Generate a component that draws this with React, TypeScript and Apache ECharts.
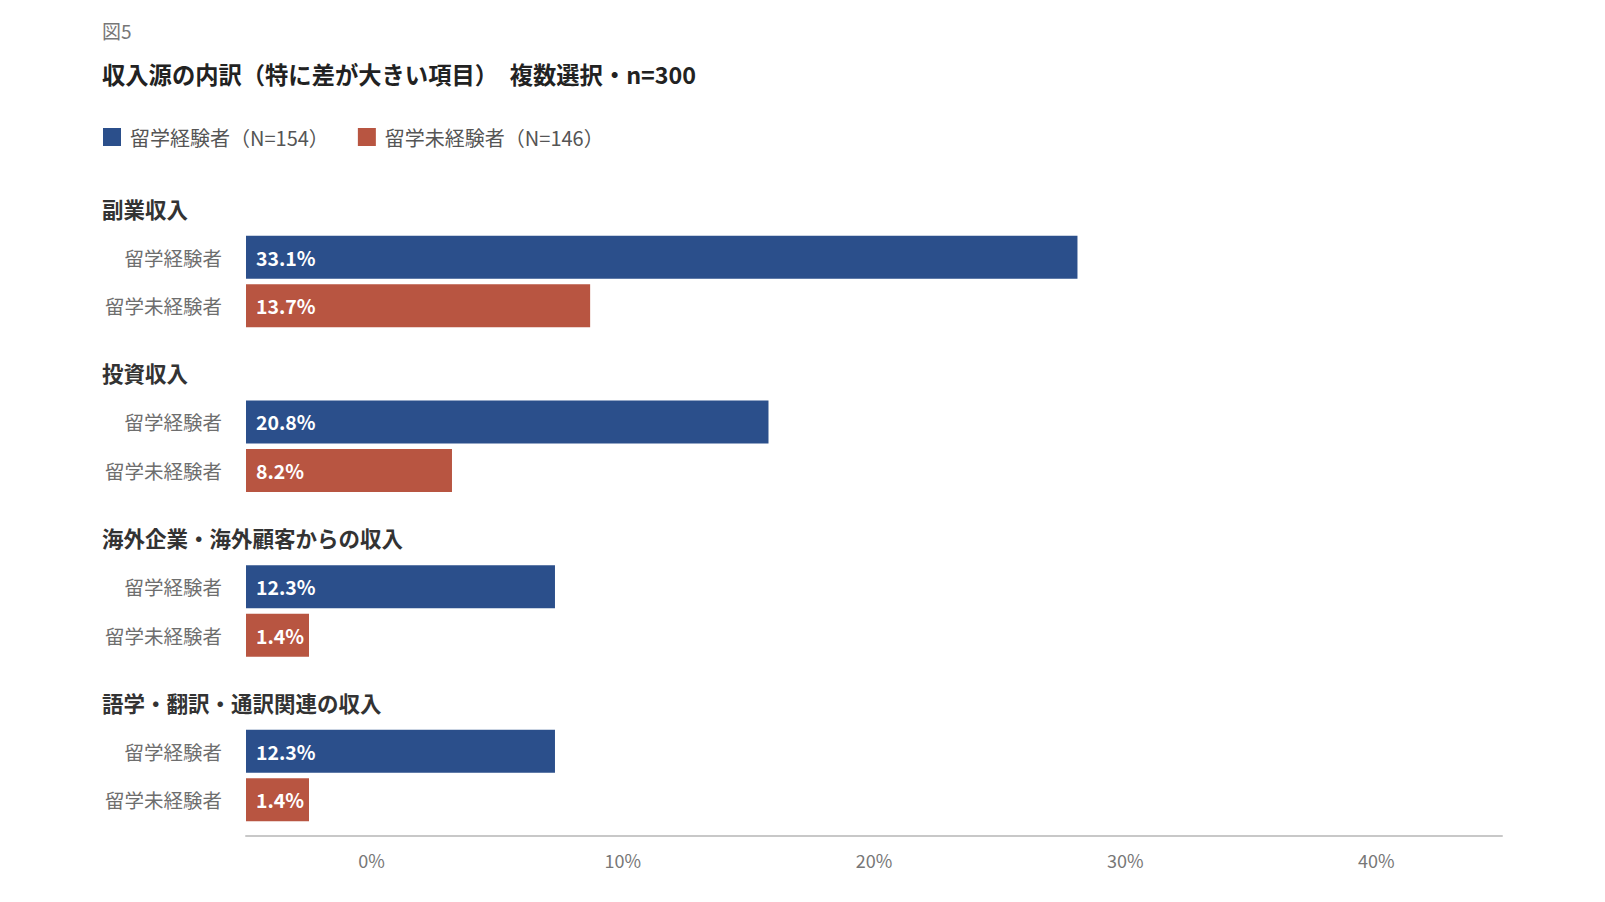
import React, { useEffect, useRef } from "react";
import * as echarts from "echarts";

const groupNames = [
  "副業収入",
  "投資収入",
  "海外企業・海外顧客からの収入",
  "語学・翻訳・通訳関連の収入",
];
const rowLabels = ["留学経験者", "留学未経験者"];
const seriesNames = ["留学経験者（N=154）", "留学未経験者（N=146）"];
const abroadValues = [33.1, 20.8, 12.3, 12.3];
const noAbroadValues = [13.7, 8.2, 1.4, 1.4];
const tickLabels = ["0%", "10%", "20%", "30%", "40%"];

const FONT = '"Noto Sans CJK JP", "Noto Sans", sans-serif';
const BLUE = "#2b4f8b";
const RED = "#b85541";

const App: React.FC = () => {
  const chartRef = useRef<HTMLDivElement>(null);

  useEffect(() => {
    document.body.style.margin = "0";
    if (!chartRef.current) return;
    const chart = echarts.init(chartRef.current, null, { renderer: "svg" });

    const gridTop = (g: number) => 233 + g * 164.7;

    const grids = groupNames.map((_, g) => ({
      left: 246,
      right: 103,
      top: gridTop(g),
      height: 97,
    }));

    const xAxes: any[] = groupNames.map((_, g) => ({
      type: "value",
      gridIndex: g,
      min: 0,
      max: 50,
      show: false,
      position: "bottom",
    }));
    // tick labels sit in the middle of each 10% band, as in the source
    xAxes.push({
      type: "category",
      gridIndex: groupNames.length - 1,
      data: tickLabels,
      boundaryGap: true,
      position: "bottom",
      offset: 12,
      axisLine: { show: true, lineStyle: { color: "#c8c8c8", width: 2 } },
      axisTick: { show: false },
      axisLabel: { interval: 0, fontSize: 18, color: "#777", fontFamily: FONT, margin: 15 },
      splitLine: { show: false },
    });

    const yAxes = groupNames.map((_, g) => ({
      type: "category",
      gridIndex: g,
      inverse: true,
      data: rowLabels,
      axisLine: { show: false },
      axisTick: { show: false },
      axisLabel: { fontSize: 19.5, color: "#6e6e6e", fontFamily: FONT, margin: 24 },
    }));

    const barLabel = {
      show: true,
      position: "insideLeft",
      distance: 10,
      color: "#fff",
      fontWeight: "bold",
      fontSize: 19.5,
      fontFamily: FONT,
      formatter: "{c}%",
    };

    const series: any[] = [];
    groupNames.forEach((_, g) => {
      series.push({
        name: seriesNames[0],
        type: "bar",
        xAxisIndex: g,
        yAxisIndex: g,
        data: [abroadValues[g], "-"],
        barWidth: 43,
        barGap: "-100%",
        barMinHeight: 63,
        itemStyle: { color: BLUE },
        label: barLabel,
      });
      series.push({
        name: seriesNames[1],
        type: "bar",
        xAxisIndex: g,
        yAxisIndex: g,
        data: ["-", noAbroadValues[g]],
        barWidth: 43,
        barGap: "-100%",
        barMinHeight: 63,
        itemStyle: { color: RED },
        label: barLabel,
      });
    });

    const headers = groupNames.map((name, g) => ({
      type: "text",
      x: 102,
      y: gridTop(g) - 25,
      style: {
        text: name,
        fill: "#333",
        font: `bold 21.5px ${FONT}`,
        verticalAlign: "middle",
      },
    }));

    chart.setOption({
      animation: false,
      backgroundColor: "#fff",
      textStyle: { fontFamily: FONT },
      grid: grids,
      xAxis: xAxes,
      yAxis: yAxes,
      legend: {
        data: seriesNames,
        left: 103,
        top: 127,
        padding: 0,
        icon: "rect",
        itemWidth: 18,
        itemHeight: 18,
        itemGap: 29,
        textStyle: { fontSize: 20, color: "#555", fontFamily: FONT, padding: [0, 0, 0, 4] },
      },
      graphic: [
        {
          type: "text",
          x: 102,
          y: 30,
          style: { text: "図5", fill: "#777", font: `19px ${FONT}`, verticalAlign: "middle" },
        },
        {
          type: "text",
          x: 102,
          y: 74,
          style: {
            text: "収入源の内訳（特に差が大きい項目）　複数選択・n=300",
            fill: "#222",
            font: `bold 23.3px ${FONT}`,
            verticalAlign: "middle",
          },
        },
        ...headers,
      ],
      series,
    });

    return () => {
      chart.dispose();
    };
  }, []);

  return <div ref={chartRef} style={{ width: "1605px", height: "902px" }} />;
};

export default App;
